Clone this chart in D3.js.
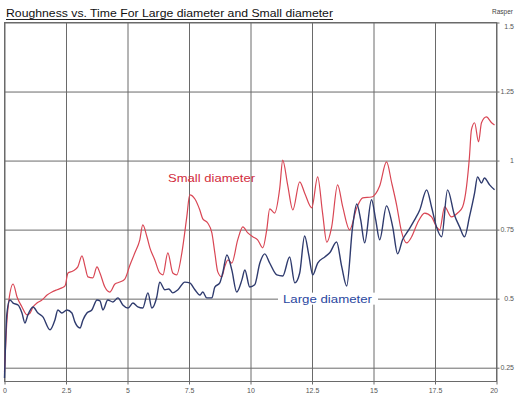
<!DOCTYPE html>
<html>
<head>
<meta charset="utf-8">
<script src="https://cdn.jsdelivr.net/npm/d3@7"></script>
<style>
  html, body { margin: 0; padding: 0; background: #fff; }
  svg { display: block; }
  text { font-family: "Liberation Sans", Arial, sans-serif; }
</style>
</head>
<body>
<script>
// Roughness readings over time for the two specimen diameters
const chartTitle = "Roughness vs. Time For Large diameter and Small diameter";
const yAxisTitle = "Rasper";
const xTicks = [0, 2.5, 5, 7.5, 10, 12.5, 15, 17.5, 20];
const xTickLabels = ["0", "2.5", "5", "7.5", "10", "12.5", "15", "17.5", "20"];
const yTicks = [0.25, 0.5, 0.75, 1, 1.25, 1.5];
const yTickLabels = ["0.25", "0.5", "0.75", "1", "1.25", "1.5"];
const seriesNames = ["Small diameter", "Large diameter"];

const smallTime = [0,0.10,0.18,0.35,0.51,0.71,0.91,1.04,1.16,1.32,
  1.52,1.73,1.93,2.13,2.33,2.46,2.58,2.78,2.98,3.15,
  3.27,3.39,3.59,3.76,3.88,4.08,4.28,4.49,4.69,4.89,
  5.10,5.30,5.50,5.62,5.79,5.91,6.11,6.31,6.44,6.64,
  6.84,7.00,7.21,7.41,7.53,7.74,7.94,8.06,8.26,8.43,
  8.55,8.67,8.83,8.95,9.08,9.24,9.48,9.69,9.89,10.09,
  10.29,10.50,10.66,10.78,10.98,11.19,11.31,11.51,11.72,12.00,
  12.20,12.49,12.73,12.93,13.10,13.30,13.54,13.75,14.03,14.32,
  14.56,14.92,15.25,15.53,15.74,15.94,16.14,16.35,16.55,16.79,
  17.08,17.36,17.56,17.69,17.89,18.17,18.42,18.62,18.78,18.90,
  18.98,19.11,19.27,19.39,19.59,19.80,19.92];
const smallRoughness = [0.234,0.423,0.495,0.553,0.506,0.470,0.441,0.448,0.470,0.484,
  0.495,0.513,0.524,0.532,0.539,0.546,0.593,0.600,0.615,0.655,
  0.618,0.579,0.575,0.615,0.593,0.542,0.524,0.553,0.560,0.571,
  0.622,0.666,0.713,0.767,0.724,0.684,0.640,0.593,0.586,0.666,
  0.593,0.586,0.666,0.796,0.876,0.861,0.821,0.789,0.774,0.738,
  0.666,0.597,0.579,0.615,0.640,0.629,0.713,0.760,0.738,0.724,
  0.713,0.684,0.749,0.825,0.810,0.901,1.002,0.912,0.821,0.923,
  0.883,0.829,0.941,0.810,0.705,0.760,0.912,0.832,0.749,0.829,
  0.865,0.868,0.908,0.995,0.919,0.839,0.742,0.702,0.724,0.774,
  0.810,0.796,0.760,0.749,0.832,0.796,0.810,0.832,0.905,1.013,
  1.111,1.137,1.068,1.137,1.158,1.137,1.129];

const largeTime = [0,0.10,0.22,0.35,0.55,0.71,0.83,0.95,1.16,1.36,
  1.56,1.85,2.05,2.17,2.33,2.54,2.74,2.86,3.07,3.19,
  3.35,3.55,3.76,3.88,4.00,4.20,4.41,4.61,4.81,5.02,
  5.22,5.42,5.62,5.83,5.99,6.19,6.31,6.52,6.68,6.84,
  7.05,7.33,7.53,7.74,7.94,8.06,8.22,8.43,8.55,8.75,
  8.87,9.04,9.24,9.44,9.65,9.77,9.97,10.17,10.38,10.58,
  10.78,11.07,11.31,11.59,11.80,12.00,12.20,12.37,12.53,12.73,
  13.02,13.22,13.50,13.71,13.91,14.15,14.32,14.48,14.64,14.92,
  15.09,15.25,15.53,15.78,15.98,16.18,16.43,16.67,16.88,17.16,
  17.36,17.56,17.77,18.01,18.29,18.50,18.70,18.90,19.11,19.23,
  19.39,19.51,19.72,19.92];
const largeRoughness = [0.213,0.448,0.495,0.484,0.477,0.448,0.412,0.441,0.470,0.448,
  0.434,0.387,0.423,0.459,0.448,0.459,0.448,0.416,0.394,0.423,
  0.448,0.459,0.495,0.492,0.459,0.495,0.488,0.503,0.477,0.466,
  0.484,0.470,0.466,0.521,0.466,0.506,0.560,0.532,0.535,0.521,
  0.532,0.560,0.557,0.532,0.513,0.524,0.503,0.503,0.542,0.557,
  0.593,0.658,0.604,0.524,0.568,0.604,0.542,0.550,0.629,0.662,
  0.629,0.586,0.582,0.651,0.557,0.593,0.727,0.658,0.586,0.629,
  0.651,0.666,0.705,0.615,0.546,0.760,0.843,0.785,0.702,0.858,
  0.785,0.713,0.836,0.760,0.662,0.713,0.749,0.785,0.821,0.894,
  0.832,0.760,0.724,0.894,0.803,0.760,0.724,0.796,0.883,0.941,
  0.919,0.937,0.912,0.894];

const W = 515, H = 399;
const plot = { left: 4.5, right: 496.5, top: 22.5, bottom: 381.5 };

const x = d3.scaleLinear().domain([0, 20]).range([plot.left, plot.right]);
const y = d3.scaleLinear().domain([0.2, 1.5]).range([plot.bottom, plot.top]);

const svg = d3.select("body").append("svg")
  .attr("width", W).attr("height", H);

svg.append("rect").attr("width", W).attr("height", H).attr("fill", "#fff");

const gridColor = "#6a6a6a";
const tickColor = "#555";

// Bottom axis: ticks run the full plot height as vertical grid lines
const xAxis = d3.axisBottom(x)
  .tickValues(xTicks)
  .tickFormat((d, i) => xTickLabels[i])
  .tickSizeInner(-(plot.bottom - plot.top + 3))
  .tickSizeOuter(0)
  .tickPadding(4);

const gx = svg.append("g")
  .attr("transform", `translate(0,${plot.bottom + 3})`)
  .call(xAxis);
gx.select(".domain").remove();
gx.selectAll(".tick line").attr("stroke", gridColor).attr("stroke-width", 1);
gx.selectAll(".tick text")
  .attr("fill", tickColor)
  .style("font-size", "7px")
  .style("font-family", "'Liberation Sans', Arial, sans-serif")
  .attr("text-anchor", (d, i) => i === xTicks.length - 1 ? "end" : "middle")
  .attr("dx", (d, i) => i === xTicks.length - 1 ? 1 : 0);

// Right axis: ticks run across the plot as horizontal grid lines
const yAxis = d3.axisRight(y)
  .tickValues(yTicks)
  .tickFormat((d, i) => yTickLabels[i])
  .tickSizeInner(-(plot.right - plot.left + 3))
  .tickSizeOuter(0)
  .tickPadding(0);

const gy = svg.append("g")
  .attr("transform", `translate(${plot.right + 3},0)`)
  .call(yAxis);
gy.select(".domain").remove();
gy.selectAll(".tick line").attr("stroke", gridColor).attr("stroke-width", 1);
gy.selectAll(".tick text")
  .attr("fill", tickColor)
  .attr("text-anchor", "end")
  .attr("x", 514 - (plot.right + 3))
  .attr("dy", (d) => d === 1.5 ? "0.9em" : "0.32em")
  .style("font-size", "7px")
  .style("font-family", "'Liberation Sans', Arial, sans-serif");

// Plot frame
svg.append("rect")
  .attr("x", plot.left).attr("y", plot.top)
  .attr("width", plot.right - plot.left)
  .attr("height", plot.bottom - plot.top)
  .attr("fill", "none")
  .attr("stroke", gridColor)
  .attr("stroke-width", 1);

// Label for the Large diameter series sits on a white patch over the 0.5 grid line
const largeLabelY = y(0.5);
svg.append("rect")
  .attr("x", 278).attr("y", largeLabelY - 6)
  .attr("width", 100).attr("height", 12)
  .attr("fill", "#fff");

const line = d3.line()
  .x(d => x(d[0]))
  .y(d => y(d[1]))
  .curve(d3.curveMonotoneX);

const smallData = d3.zip(smallTime, smallRoughness);
const largeData = d3.zip(largeTime, largeRoughness);

svg.append("path")
  .datum(smallData)
  .attr("d", line)
  .attr("fill", "none")
  .attr("stroke", "#d94654")
  .attr("stroke-width", 1.2)
  .attr("stroke-linejoin", "round");

svg.append("path")
  .datum(largeData)
  .attr("d", line)
  .attr("fill", "none")
  .attr("stroke", "#2f3b6e")
  .attr("stroke-width", 1.4)
  .attr("stroke-linejoin", "round");

// Series labels
svg.append("text")
  .attr("x", 168).attr("y", 182)
  .attr("fill", "#d22c3c")
  .style("font-size", "11px")
  .attr("textLength", 87)
  .attr("lengthAdjust", "spacingAndGlyphs")
  .text(seriesNames[0]);

svg.append("text")
  .attr("x", 283).attr("y", largeLabelY + 4)
  .attr("fill", "#2a47a0")
  .style("font-size", "11px")
  .attr("textLength", 89)
  .attr("lengthAdjust", "spacingAndGlyphs")
  .text(seriesNames[1]);

// Title, underlined
svg.append("text")
  .attr("x", 6).attr("y", 17)
  .attr("fill", "#111")
  .style("font-size", "10.5px")
  .attr("textLength", 327)
  .attr("lengthAdjust", "spacingAndGlyphs")
  .text(chartTitle);
svg.append("line")
  .attr("x1", 6).attr("x2", 333)
  .attr("y1", 19.5).attr("y2", 19.5)
  .attr("stroke", "#222").attr("stroke-width", 1);

// Axis caption at top right
svg.append("text")
  .attr("x", 513).attr("y", 14)
  .attr("text-anchor", "end")
  .attr("fill", "#444")
  .style("font-size", "6.5px")
  .text(yAxisTitle);
</script>
</body>
</html>
